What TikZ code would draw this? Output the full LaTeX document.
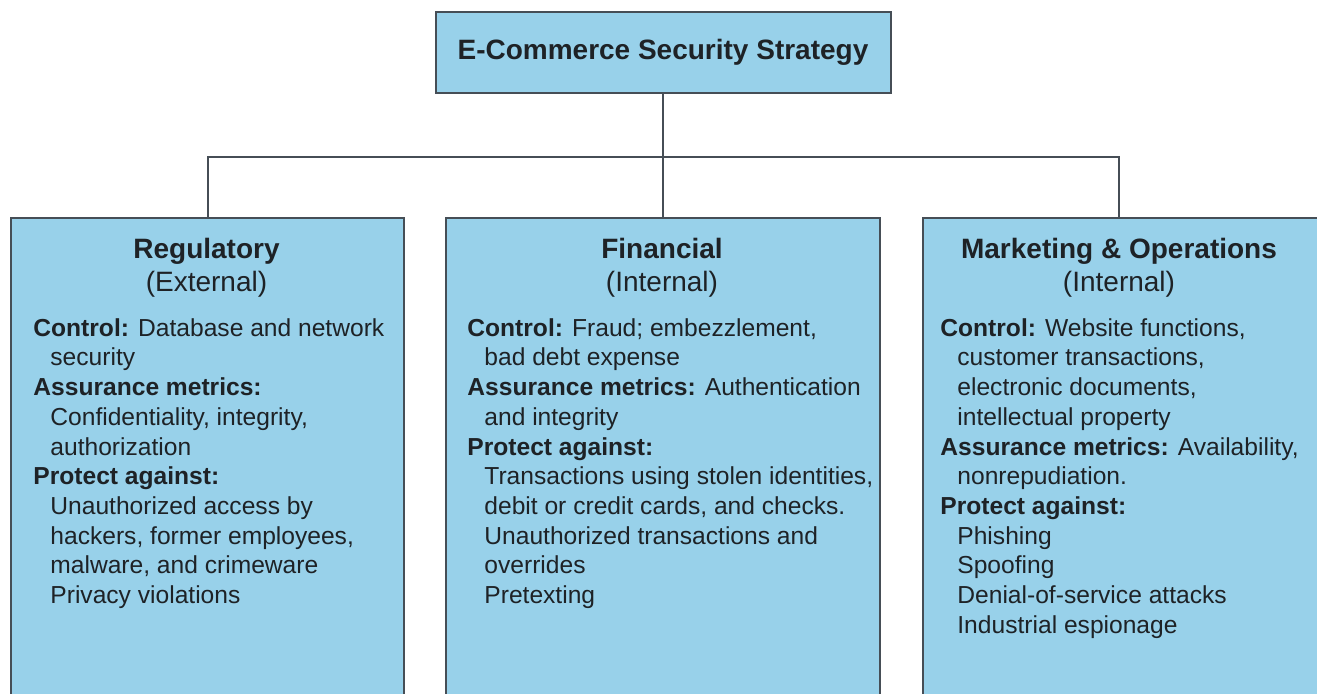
\documentclass[tikz,border=0pt]{standalone}
\usepackage{fontspec}
\setmainfont{Liberation Sans}
\usepackage{tikz}
\definecolor{panelblue}{RGB}{152,209,234}
\definecolor{edgegray}{RGB}{70,78,86}
\definecolor{inkgray}{RGB}{30,34,38}
\tikzstyle{panel}=[rectangle, draw=edgegray, line width=1pt, fill=panelblue,
                   anchor=north west, inner sep=0pt]
\tikzstyle{head}=[anchor=north, align=center, inner sep=0pt, text=inkgray,
                  font=\fontsize{14}{16.5}\selectfont]
\tikzstyle{body}=[anchor=north west, align=left, inner sep=0pt, text=inkgray,
                  font=\fontsize{12.3}{14.85}\selectfont]
\tikzstyle{link}=[line width=1pt, draw=edgegray]
\newcommand{\subln}{\hspace*{8.5pt}}
\begin{document}
\begin{tikzpicture}[x=0.5pt, y=-0.5pt]
  \useasboundingbox (0,0) rectangle (1317,693);
  \clip (0,0) rectangle (1317,693);

  % Top
  \node[panel, anchor=center, minimum width=227.5pt, minimum height=40.5pt,
        text=inkgray, font=\bfseries\fontsize{14}{16.5}\selectfont]
        (title) at (663,52.5) {E-Commerce Security Strategy};

  % Panels (run past the lower edge)
  \node[panel, minimum width=196.5pt, minimum height=252pt] (reg) at (10,217) {};
  \node[panel, minimum width=217pt, minimum height=252pt] (fin) at (445,217) {};
  \node[panel, minimum width=210pt, minimum height=252pt] (mkt) at (922,217) {};
  \coordinate (mktIn) at (1119,217);
  \coordinate (fork) at (663,157);

  % Regulatory
  \node[head] (regHead) at (206.5,238) {\textbf{Regulatory}\\(External)};
  \node[body] (regBody) at (33,318) {%
    \textbf{Control:} Database and network\\
    \subln security\\
    \textbf{Assurance metrics:}\\
    \subln Confidentiality, integrity,\\
    \subln authorization\\
    \textbf{Protect against:}\\
    \subln Unauthorized access by\\
    \subln hackers, former employees,\\
    \subln malware, and crimeware\\
    \subln Privacy violations};

  % Financial
  \node[head] (finHead) at (662,238) {\textbf{Financial}\\(Internal)};
  \node[body] (finBody) at (467,318) {%
    \textbf{Control:} Fraud; embezzlement,\\
    \subln bad debt expense\\
    \textbf{Assurance metrics:} Authentication\\
    \subln and integrity\\
    \textbf{Protect against:}\\
    \subln Transactions using stolen identities,\\
    \subln debit or credit cards, and checks.\\
    \subln Unauthorized transactions and\\
    \subln overrides\\
    \subln Pretexting};

  % Marketing & Operations
  \node[head] (mktHead) at (1119,238) {\textbf{Marketing \& Operations}\\(Internal)};
  \node[body] (mktBody) at (940,318) {%
    \textbf{Control:} Website functions,\\
    \subln customer transactions,\\
    \subln electronic documents,\\
    \subln intellectual property\\
    \textbf{Assurance metrics:} Availability,\\
    \subln nonrepudiation.\\
    \textbf{Protect against:}\\
    \subln Phishing\\
    \subln Spoofing\\
    \subln Denial-of-service attacks\\
    \subln Industrial espionage};

  % Connectors
  \draw[link] (title.south) -- (fork);
  \draw[link] (reg.north) -- (reg.north |- fork) -- (fork -| mktIn) -- (mktIn);
  \draw[link] (fork) -- (fin.north);
\end{tikzpicture}
\end{document}
